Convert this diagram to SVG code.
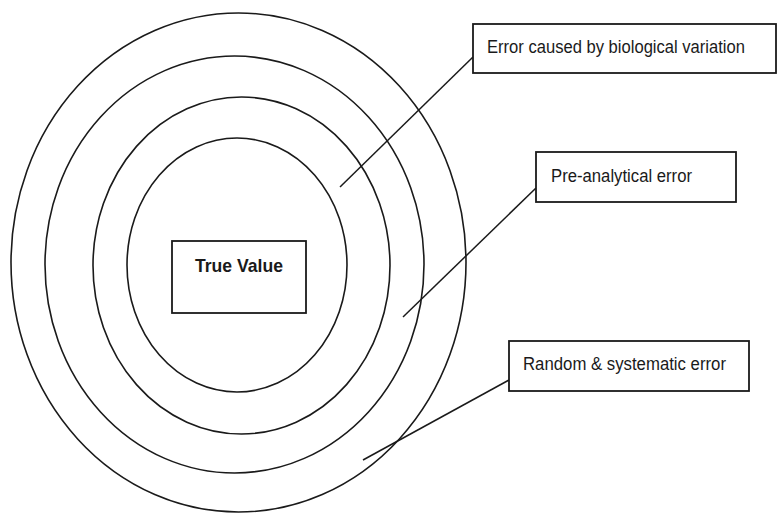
<svg xmlns="http://www.w3.org/2000/svg" width="777" height="514" viewBox="0 0 777 514">
<style>
.ring{fill:none;stroke:#1a1a1a;stroke-width:1.6}
.box{fill:#fff;stroke:#1a1a1a;stroke-width:1.8}
.lbl{font-family:"Liberation Sans",Arial,sans-serif;font-size:17.5px;fill:#1a1a1a}
.lead{stroke:#1a1a1a;stroke-width:1.5;fill:none}
</style>
<rect width="777" height="514" fill="#fff"/>
<g id="rings">
<ellipse class="ring" cx="238.5" cy="262.5" rx="227.5" ry="249.5"/>
<ellipse class="ring" cx="234.5" cy="264.5" rx="189.5" ry="208.5"/>
<ellipse class="ring" cx="241.5" cy="265.5" rx="148.5" ry="168.5"/>
<ellipse class="ring" cx="237" cy="265" rx="110" ry="127"/>
</g>
<g id="connectors">
<line class="lead" x1="340" y1="187" x2="473" y2="57"/>
<line class="lead" x1="403" y1="317" x2="536" y2="188"/>
<line class="lead" x1="363" y1="460" x2="509" y2="380"/>
</g>
<g id="true-value">
<rect class="box" x="172" y="241" width="134" height="72"/>
<text x="195" y="272" textLength="88" lengthAdjust="spacingAndGlyphs" font-family="Liberation Sans, Arial, sans-serif" font-size="19" font-weight="bold" fill="#1a1a1a">True Value</text>
</g>
<g id="biological">
<rect class="box" x="473" y="24" width="303" height="49"/>
<text class="lbl" x="487" y="53" textLength="258" lengthAdjust="spacingAndGlyphs">Error caused by biological variation</text>
</g>
<g id="preanalytical">
<rect class="box" x="536" y="152" width="200" height="50"/>
<text class="lbl" x="551" y="182" textLength="141" lengthAdjust="spacingAndGlyphs">Pre-analytical error</text>
</g>
<g id="random">
<rect class="box" x="509" y="341" width="240" height="50"/>
<text class="lbl" x="523" y="370" textLength="203" lengthAdjust="spacingAndGlyphs">Random &amp; systematic error</text>
</g>
</svg>
